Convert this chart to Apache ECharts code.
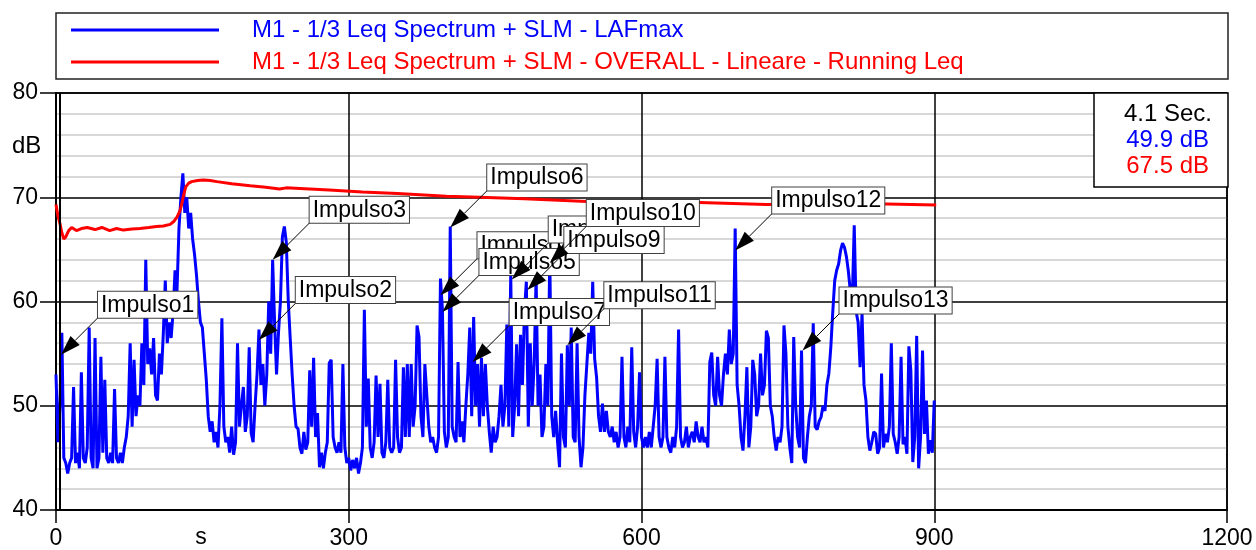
<!DOCTYPE html>
<html>
<head>
<meta charset="utf-8">
<script src="https://cdn.jsdelivr.net/npm/echarts@6/dist/echarts.min.js"></script>
<style>
  html, body { margin: 0; padding: 0; background: #fff; }
  #chart { width: 1256px; height: 550px; }
</style>
</head>
<body>
<div id="chart"></div>
<script>
// ---- data ----------------------------------------------------------------
const seriesNames = [
  'M1 - 1/3 Leq Spectrum + SLM - LAFmax',
  'M1 - 1/3 Leq Spectrum + SLM - OVERALL - Lineare - Running Leq'
];

// LAFmax, one value every 2 s starting at 0 s (dB)
const lafmaxStart = 0;
const lafmaxStep = 2;
const lafmaxValues = [
  53, 46.5, 50, 57, 45, 44.5, 43.5, 44.5, 45, 51.8,
  44.5, 45.5, 44, 53.2, 45, 44.5, 46, 57.5, 45, 44,
  56.5, 44, 45, 54.7, 45.5, 52.5, 45, 44.5, 45.5, 44.5,
  51.6, 45, 44.5, 45.5, 44.5, 46, 47, 49, 56, 48,
  54.4, 49, 51, 50, 56, 52, 64, 54, 55.5, 53,
  56.5, 51, 50.5, 55, 53, 57, 62, 56, 58, 56.5,
  59, 63, 61, 67, 70, 72.3, 68.5, 70, 67, 68.5,
  66, 64.5, 62.5, 60, 58, 57.5, 55, 52.5, 49, 47.5,
  48.5, 46.5, 47.5, 46, 50, 58.4, 48, 46.5, 47, 45.5,
  48, 45.3, 46.5, 56, 48, 50, 51.8, 47.5, 49, 55.6,
  47.4, 46.5, 50, 53, 57.3, 52, 54, 50, 53, 60,
  55, 64, 58, 53, 57, 60, 66.2, 67.2, 65.7, 60.1,
  56.5, 53, 50, 48, 47.8, 46, 45.4, 47.5, 45.8, 46.5,
  53.4, 48, 54.6, 47, 49.3, 44.1, 45.5, 44, 45.5, 46.5,
  54.1, 54.4, 47, 46, 45.5, 46.5, 45.5, 54, 46, 44.5,
  45, 43.8, 44.8, 44, 45, 43.5, 44.5, 46, 59.2, 48,
  52.6, 46, 45, 46.5, 52.9, 47, 52.1, 45.5, 45, 46.5,
  52.5, 46, 45.5, 46, 54.4, 47, 45.5, 46, 53.7, 47,
  54, 47, 54, 48, 50, 57.7, 56.6, 49, 47, 54,
  51, 48, 46.5, 47, 46, 45.5, 47, 62.2, 59.2, 47.5,
  46, 47, 67.2, 48, 47, 46.5, 54.2, 47, 48.5, 46.5,
  50, 53, 57.5, 49, 58.5, 50, 54, 48, 54.6, 49,
  54, 50, 47.5, 45.5, 48, 46.5, 47, 49, 52, 48,
  50, 57.8, 48, 62.7, 47, 50, 55.9, 49, 56.8, 52,
  58.9, 61.9, 48, 56, 50, 54, 62.4, 50, 53, 47,
  48, 54, 50, 64.4, 49, 47, 49.5, 46.5, 44.1, 55,
  47, 46, 55.8, 50, 57.5, 47, 46.5, 56, 47, 44.1,
  46, 51, 54, 57, 55, 61.9, 54.5, 52.7, 49, 47.5,
  50.2, 47.5, 49.5, 47.5, 47, 48, 46.5, 47.5, 46, 47,
  54.7, 47, 46, 48, 46.5, 55.6, 47.5, 46, 48, 53.2,
  47, 46, 47, 46, 47.5, 46, 48, 50, 54.5, 47,
  46, 47, 54.7, 47, 46, 45.5, 47, 46, 48, 57.3,
  47, 46, 46.5, 48, 46, 47, 47.5, 46.5, 48.5, 47,
  46.5, 48, 46.5, 47, 46, 54.2, 55.1, 51, 50, 54.7,
  51, 50, 53, 55, 53, 57.3, 54, 55, 67, 52,
  50, 47, 45.7, 49, 53.7, 46, 48, 54.4, 53, 49,
  50, 55, 51, 52, 57.2, 56.5, 50, 49, 47, 45.7,
  47, 46.5, 48, 57.7, 55, 48, 46, 44.5, 56.6, 50,
  47, 46, 55.3, 45, 44.5, 47, 49, 50, 57.9, 48,
  47.7, 48.5, 48.9, 50, 49.5, 52, 53.1, 55.6, 59, 62,
  63, 63.6, 64.9, 65.6, 65.2, 64.3, 62.9, 61, 60.1, 67.3,
  59, 58, 53.7, 58.9, 52, 50.5, 47, 45.7, 46.5, 47.5,
  47.3, 45.4, 46, 53.1, 46, 47.3, 46.5, 48, 56, 47.3,
  46.5, 45.4, 47, 54.7, 46.3, 47, 45.4, 55.7, 53.4, 44.6,
  47, 56.7, 44, 47, 55.3, 47.3, 50.5, 45.4, 46.7, 45.5,
  50.5
];

// Running Leq (dB) at the listed times (s)
const leqTimes = [
  0, 2, 4, 6, 8, 10, 13, 16, 21, 26, 32, 40, 47, 55, 62, 69, 78, 86, 95, 103,
  110, 117, 121, 124, 127, 129, 131, 133, 136, 139, 145, 151, 158, 165, 180,
  199, 215, 229, 236, 250, 280, 314, 350, 400, 434, 480, 544, 600, 659, 728,
  780, 851, 902
];
const leqValues = [
  69.3, 68.2, 67.5, 66.6, 66.0, 66.2, 66.8, 67.1, 66.8, 67.0, 67.1, 66.9, 67.1, 66.8, 67.0, 66.85, 66.95, 67.0, 67.1, 67.2,
  67.25, 67.4, 67.7, 68.1, 68.7, 69.4, 70.3, 71.0, 71.35, 71.5, 71.6, 71.65, 71.6, 71.5, 71.3,
  71.1, 70.95, 70.8, 70.9, 70.85, 70.7, 70.5, 70.35, 70.1, 70.0, 69.85, 69.6, 69.55, 69.5, 69.3,
  69.35, 69.35, 69.25
];

// Marked impulses: name, time (s), level (dB) at the arrow tip
const impulseNames = [
  'Impulso1', 'Impulso2', 'Impulso3', 'Impulso4', 'Impulso5', 'Impulso6', 'Impulso7',
  'Impulso8', 'Impulso9', 'Impulso10', 'Impulso11', 'Impulso12', 'Impulso13'
];
const impulseTimes = [5.1, 207.8, 222, 394, 396, 404, 427, 467, 483, 506, 524, 696, 765];
const impulseLevels = [54.9, 56.3, 64.0, 60.6, 59.0, 67.1, 54.2, 62.1, 61.1, 63.7, 55.8, 64.9, 55.3];

// Cursor readout
const cursorTime = 4.1;
const cursorReadings = [49.9, 67.5];

// ---- styling -------------------------------------------------------------
const FONT = '"Liberation Sans", Arial, Helvetica, sans-serif';
const BLUE = '#0000ff';
const RED = '#ff0000';
const CALLOUT_DX = 37;   // callout box offset from the arrow tip (px)
const CALLOUT_DY = 37;

const lafmaxData = lafmaxValues.map((v, i) => [lafmaxStart + i * lafmaxStep, v]);
const leqData = leqTimes.map((t, i) => [t, leqValues[i]]);
const impulseData = impulseTimes.map((t, i) => [t, impulseLevels[i]]);

function renderCallout(params, api) {
  const tip = api.coord([api.value(0), api.value(1)]);
  const name = impulseNames[params.dataIndex];
  const cx = tip[0] + CALLOUT_DX;
  const cy = tip[1] - CALLOUT_DY;
  const ang = Math.atan2(tip[1] - cy, tip[0] - cx);
  const L = 20, W = 6.5;
  const bx = tip[0] - L * Math.cos(ang);
  const by = tip[1] - L * Math.sin(ang);
  const nx = -Math.sin(ang), ny = Math.cos(ang);
  return {
    type: 'group',
    children: [
      { type: 'line', shape: { x1: cx, y1: cy, x2: bx, y2: by },
        style: { stroke: '#000', lineWidth: 1 } },
      { type: 'polygon',
        shape: { points: [[tip[0], tip[1]], [bx + nx * W, by + ny * W], [bx - nx * W, by - ny * W]] },
        style: { fill: '#000' } },
      { type: 'text',
        style: {
          x: cx, y: cy, text: name, align: 'left', verticalAlign: 'bottom',
          font: '23px ' + FONT, fill: '#000',
          backgroundColor: '#fff', borderColor: '#404040', borderWidth: 1,
          padding: [1, 3, 0, 3], lineHeight: 25
        } }
    ]
  };
}

const chart = echarts.init(document.getElementById('chart'), null, { renderer: 'canvas' });

chart.setOption({
  animation: false,
  backgroundColor: '#fff',
  textStyle: { fontFamily: FONT },
  grid: {
    left: 56, right: 29, top: 93, bottom: 40,
    outerBoundsMode: 'none',
    containLabel: false,
    show: true, borderColor: '#000', borderWidth: 1.5, backgroundColor: 'transparent'
  },
  legend: {
    orient: 'vertical',
    left: 71, top: 17, padding: 0,
    itemWidth: 148, itemHeight: 3, itemGap: 6,
    icon: 'rect',
    selectedMode: false,
    textStyle: { fontSize: 24, fontFamily: FONT, lineHeight: 26, padding: [0, 0, 0, 28] },
    data: [
      { name: seriesNames[0], textStyle: { color: BLUE } },
      { name: seriesNames[1], textStyle: { color: RED } }
    ]
  },
  xAxis: {
    type: 'value', min: 0, max: 1200, interval: 300,
    axisLine: { show: true, onZero: false, lineStyle: { color: '#000', width: 2 } },
    axisTick: { show: true, length: 13, lineStyle: { color: '#000', width: 1.5 } },
    axisLabel: { fontSize: 23, color: '#000', margin: 17, fontFamily: FONT,
                 formatter: v => String(v) },
    splitLine: { show: true, lineStyle: { color: '#000', width: 1.5 } }
  },
  yAxis: {
    type: 'value', min: 40, max: 80, interval: 10,
    axisLine: { show: true, onZero: false, lineStyle: { color: '#000', width: 2 } },
    axisTick: { show: true, length: 16, lineStyle: { color: '#000', width: 1.5 } },
    axisLabel: { fontSize: 23, color: '#000', margin: 18, fontFamily: FONT },
    splitLine: { show: true, lineStyle: { color: '#000', width: 1.5 } },
    minorTick: { show: false, splitNumber: 5 },
    minorSplitLine: { show: true, lineStyle: { color: '#cccccc', width: 1.5 } }
  },
  series: [
    {
      name: seriesNames[0],
      type: 'line',
      data: lafmaxData,
      showSymbol: false,
      color: BLUE,
      lineStyle: { color: BLUE, width: 3 },
      z: 3,
      markLine: {
        silent: true,
        symbol: ['none', 'none'],
        label: { show: false },
        lineStyle: { color: '#000', type: 'solid', width: 2 },
        data: [{ xAxis: cursorTime }]
      }
    },
    {
      name: seriesNames[1],
      type: 'line',
      data: leqData,
      showSymbol: false,
      color: RED,
      lineStyle: { color: RED, width: 3 },
      z: 4
    },
    {
      name: 'callouts',
      type: 'custom',
      data: impulseData,
      renderItem: renderCallout,
      clip: false,
      silent: true,
      z: 10
    }
  ],
  graphic: [
    { type: 'rect', z: 100, shape: { x: 56, y: 13, width: 1172, height: 66 },
      style: { fill: 'none', stroke: '#222', lineWidth: 1.5 } },
    { type: 'text', z: 100, style: { x: 12, y: 146, text: 'dB', font: '24px ' + FONT, fill: '#000', verticalAlign: 'middle' } },
    { type: 'text', z: 100, style: { x: 201, y: 538, text: 's', font: '23px ' + FONT, fill: '#000', align: 'center', verticalAlign: 'middle' } },
    { type: 'rect', z: 100, shape: { x: 1094, y: 93, width: 134, height: 94 },
      style: { fill: '#fff', stroke: '#000', lineWidth: 1.5 } },
    { type: 'text', z: 101, style: { x: 1212, y: 114, text: cursorTime.toFixed(1) + ' Sec.', font: '24px ' + FONT, fill: '#000', align: 'right', verticalAlign: 'middle' } },
    { type: 'text', z: 101, style: { x: 1209, y: 140, text: cursorReadings[0].toFixed(1) + ' dB', font: '24px ' + FONT, fill: BLUE, align: 'right', verticalAlign: 'middle' } },
    { type: 'text', z: 101, style: { x: 1209, y: 166, text: cursorReadings[1].toFixed(1) + ' dB', font: '24px ' + FONT, fill: RED, align: 'right', verticalAlign: 'middle' } }
  ]
});
</script>
</body>
</html>
